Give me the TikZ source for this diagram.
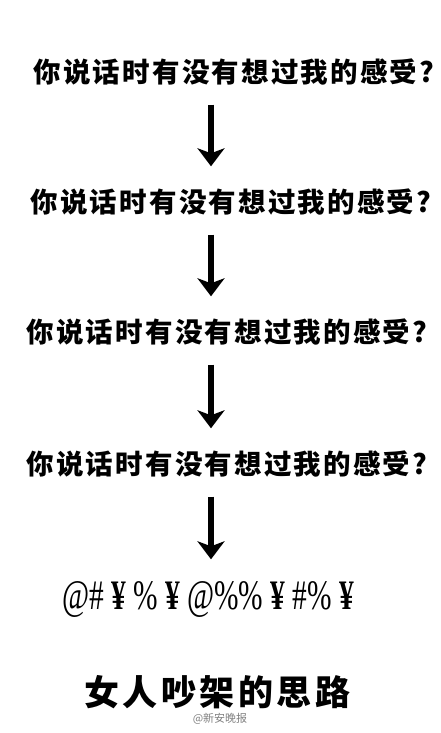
\documentclass[tikz,border=0pt]{standalone}
\usepackage{fontspec}
\setmainfont{Liberation Serif}
\newfontfamily\cjk{Noto Sans CJK SC}
\newfontfamily\symfont[FakeStretch=0.7]{Liberation Serif}
\usetikzlibrary{arrows.meta,positioning}

\begin{document}
\begin{tikzpicture}[x=1pt, y=-1pt,
  question/.style={inner sep=0pt, text height=23pt, text depth=4pt, font=\cjk\bfseries\fontsize{27.5}{27.5}\selectfont\addfontfeature{LetterSpace=8}},
  downarrow/.style={line width=6.5pt, -{Stealth[length=18pt, width=27pt, inset=5pt]}, shorten <=18pt, shorten >=23pt}]
\fill[white] (0,0) rectangle (440,733);
\coordinate (ax) at (211,0);

\node[question] (q1) at (234,73) {你说话时有没有想过我的感受?};
\node[question] (q2) at (231,203) {你说话时有没有想过我的感受?};
\node[question] (q3) at (227,333) {你说话时有没有想过我的感受?};
\node[question] (q4) at (227,465) {你说话时有没有想过我的感受?};
\node[inner sep=0pt, text height=27pt, text depth=4pt, font=\symfont\fontsize{42}{42}\selectfont] (sym) at (208,598) {@\# {\bfseries ¥} \% {\bfseries ¥} @\%\% {\bfseries ¥} \#\% {\bfseries ¥}};
\node[inner sep=0pt, font=\cjk\bfseries\fontsize{35}{35}\selectfont\addfontfeature{LetterSpace=10}] (title) at (217,692) {女人吵架的思路};
\node[inner sep=0pt, text=gray, font=\cjk\fontsize{11}{11}\selectfont] (src) at (220,719) {@新安晚报};

\draw[downarrow] (q1.south -| ax) -- (q2.north -| ax);
\draw[downarrow] (q2.south -| ax) -- (q3.north -| ax);
\draw[downarrow] (q3.south -| ax) -- (q4.north -| ax);
\draw[downarrow] (q4.south -| ax) -- (sym.north -| ax);
\end{tikzpicture}
\end{document}
